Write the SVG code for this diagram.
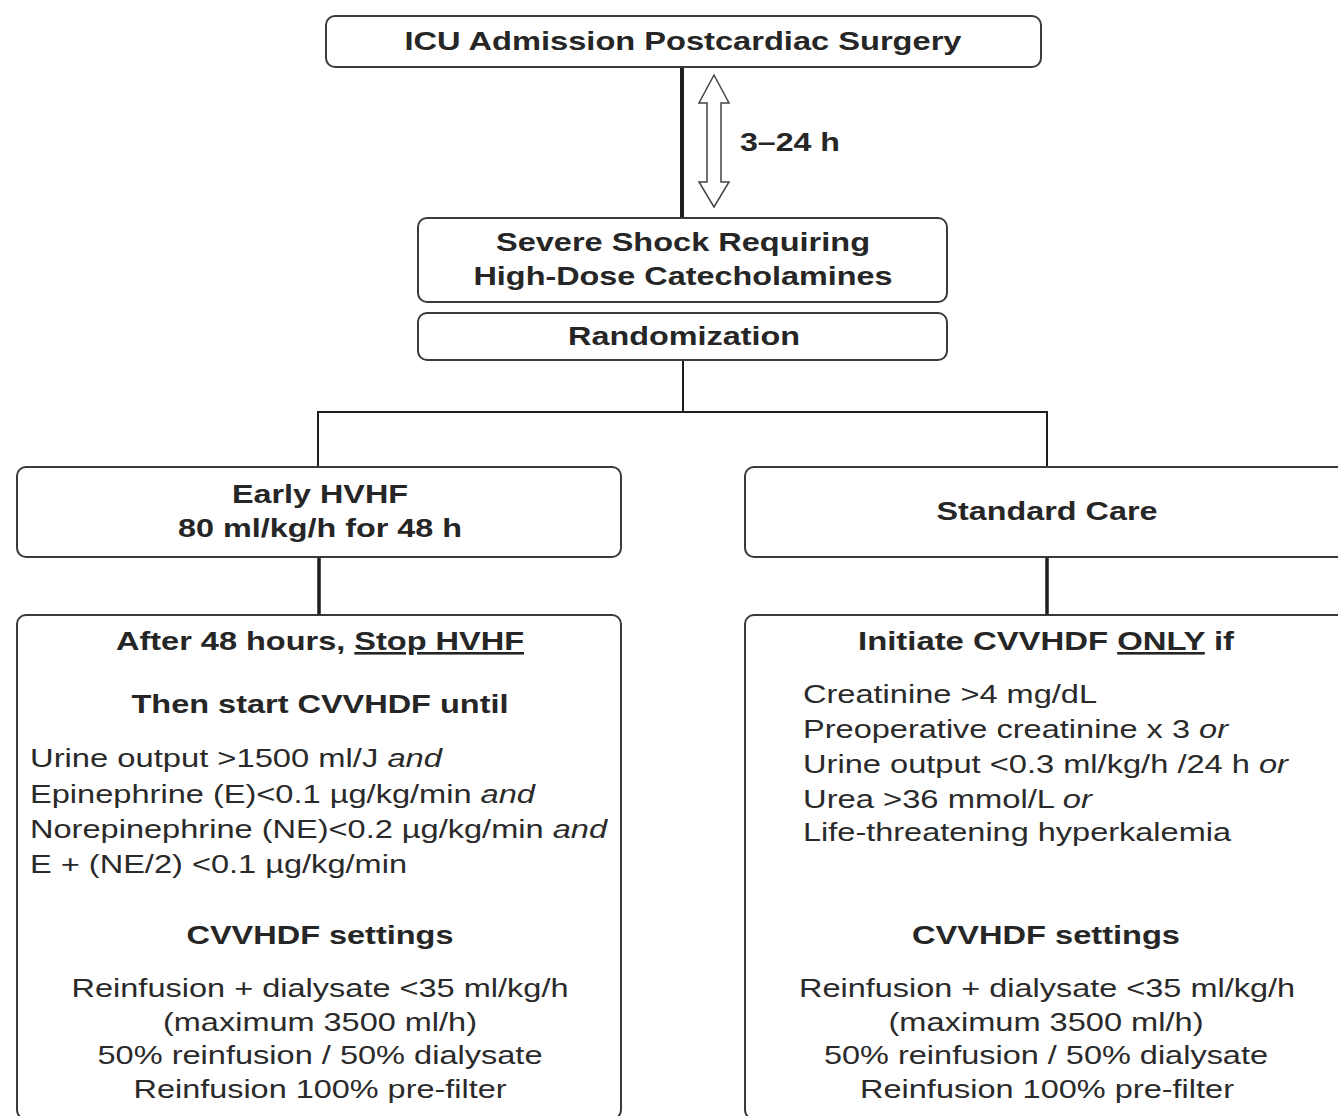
<svg xmlns="http://www.w3.org/2000/svg" width="1338" height="1116" viewBox="0 0 1338 1116">
<style>
.box{fill:#fff;stroke:#3a3a3a;stroke-width:2}
.b{font-family:"Liberation Sans",Arial,sans-serif;font-weight:bold;font-size:26px;fill:#262626}
.r{font-family:"Liberation Sans",Arial,sans-serif;font-size:26px;fill:#2a2a2a}
.c{text-anchor:middle}
.i{font-style:italic}
.u{text-decoration:underline}
.ln{stroke:#1e1e1e;fill:none}
</style>
<rect width="1338" height="1116" fill="#fff"/>
<g id="connectors">
<line class="ln" x1="682" y1="67" x2="682" y2="218" stroke-width="4"/>
<path d="M714 75 L729 103 L721 103 L721 182 L729 182 L714 207 L699 182 L707 182 L707 103 L699 103 Z" fill="#fff" stroke="#444" stroke-width="1.5"/>
<text class="b" x="740" y="151" textLength="100" lengthAdjust="spacingAndGlyphs">3–24 h</text>
<line class="ln" x1="683" y1="360" x2="683" y2="412" stroke-width="2"/>
<polyline class="ln" points="318,467 318,412 1047,412 1047,467" stroke-width="2"/>
<line class="ln" x1="319" y1="557" x2="319" y2="615" stroke-width="3.5"/>
<line class="ln" x1="1047" y1="557" x2="1047" y2="615" stroke-width="3.5"/>
</g>
<g id="n-icu">
<rect class="box" x="326" y="16" width="715" height="51" rx="9"/>
<text class="b c" x="683" y="50" textLength="557" lengthAdjust="spacingAndGlyphs">ICU Admission Postcardiac Surgery</text>
</g>
<g id="n-shock">
<rect class="box" x="418" y="218" width="529" height="84" rx="9"/>
<text class="b c" x="683" y="251" textLength="374" lengthAdjust="spacingAndGlyphs">Severe Shock Requiring</text>
<text class="b c" x="683" y="285" textLength="419" lengthAdjust="spacingAndGlyphs">High-Dose Catecholamines</text>
</g>
<g id="n-rand">
<rect class="box" x="418" y="313" width="529" height="47" rx="9"/>
<text class="b c" x="684" y="345" textLength="232" lengthAdjust="spacingAndGlyphs">Randomization</text>
</g>
<g id="n-early">
<rect class="box" x="17" y="467" width="604" height="90" rx="9"/>
<text class="b c" x="320" y="503" textLength="176" lengthAdjust="spacingAndGlyphs">Early HVHF</text>
<text class="b c" x="320" y="537" textLength="284" lengthAdjust="spacingAndGlyphs">80 ml/kg/h for 48 h</text>
</g>
<g id="n-std">
<rect class="box" x="745" y="467" width="610" height="90" rx="9"/>
<text class="b c" x="1047" y="520" textLength="221" lengthAdjust="spacingAndGlyphs">Standard Care</text>
</g>
<g id="n-left">
<rect class="box" x="17" y="615" width="604" height="504" rx="9"/>
<text class="b c" x="320" y="650" textLength="408" lengthAdjust="spacingAndGlyphs">After 48 hours, <tspan class="u">Stop HVHF</tspan></text>
<text class="b c" x="320" y="713" textLength="377" lengthAdjust="spacingAndGlyphs">Then start CVVHDF until</text>
<text class="r" x="30" y="767" textLength="412" lengthAdjust="spacingAndGlyphs">Urine output &gt;1500 ml/J <tspan class="i">and</tspan></text>
<text class="r" x="30" y="803" textLength="505" lengthAdjust="spacingAndGlyphs">Epinephrine (E)&lt;0.1 µg/kg/min <tspan class="i">and</tspan></text>
<text class="r" x="30" y="838" textLength="577" lengthAdjust="spacingAndGlyphs">Norepinephrine (NE)&lt;0.2 µg/kg/min <tspan class="i">and</tspan></text>
<text class="r" x="30" y="873" textLength="377" lengthAdjust="spacingAndGlyphs">E + (NE/2) &lt;0.1 µg/kg/min</text>
<text class="b c" x="320" y="944" textLength="267" lengthAdjust="spacingAndGlyphs">CVVHDF settings</text>
<text class="r c" x="320" y="997" textLength="497" lengthAdjust="spacingAndGlyphs">Reinfusion + dialysate &lt;35 ml/kg/h</text>
<text class="r c" x="320" y="1031" textLength="314" lengthAdjust="spacingAndGlyphs">(maximum 3500 ml/h)</text>
<text class="r c" x="320" y="1064" textLength="445" lengthAdjust="spacingAndGlyphs">50% reinfusion / 50% dialysate</text>
<text class="r c" x="320" y="1098" textLength="373" lengthAdjust="spacingAndGlyphs">Reinfusion 100% pre-filter</text>
</g>
<g id="n-right">
<rect class="box" x="745" y="615" width="610" height="504" rx="9"/>
<text class="b c" x="1046" y="650" textLength="376" lengthAdjust="spacingAndGlyphs">Initiate CVVHDF <tspan class="u">ONLY</tspan> if</text>
<text class="r" x="803" y="703" textLength="294" lengthAdjust="spacingAndGlyphs">Creatinine &gt;4 mg/dL</text>
<text class="r" x="803" y="738" textLength="425" lengthAdjust="spacingAndGlyphs">Preoperative creatinine x 3 <tspan class="i">or</tspan></text>
<text class="r" x="803" y="773" textLength="485" lengthAdjust="spacingAndGlyphs">Urine output &lt;0.3 ml/kg/h /24 h <tspan class="i">or</tspan></text>
<text class="r" x="803" y="808" textLength="289" lengthAdjust="spacingAndGlyphs">Urea &gt;36 mmol/L <tspan class="i">or</tspan></text>
<text class="r" x="803" y="841" textLength="428" lengthAdjust="spacingAndGlyphs">Life-threatening hyperkalemia</text>
<text class="b c" x="1046" y="944" textLength="268" lengthAdjust="spacingAndGlyphs">CVVHDF settings</text>
<text class="r c" x="1047" y="997" textLength="496" lengthAdjust="spacingAndGlyphs">Reinfusion + dialysate &lt;35 ml/kg/h</text>
<text class="r c" x="1046" y="1031" textLength="315" lengthAdjust="spacingAndGlyphs">(maximum 3500 ml/h)</text>
<text class="r c" x="1046" y="1064" textLength="444" lengthAdjust="spacingAndGlyphs">50% reinfusion / 50% dialysate</text>
<text class="r c" x="1047" y="1098" textLength="374" lengthAdjust="spacingAndGlyphs">Reinfusion 100% pre-filter</text>
</g>
</svg>
